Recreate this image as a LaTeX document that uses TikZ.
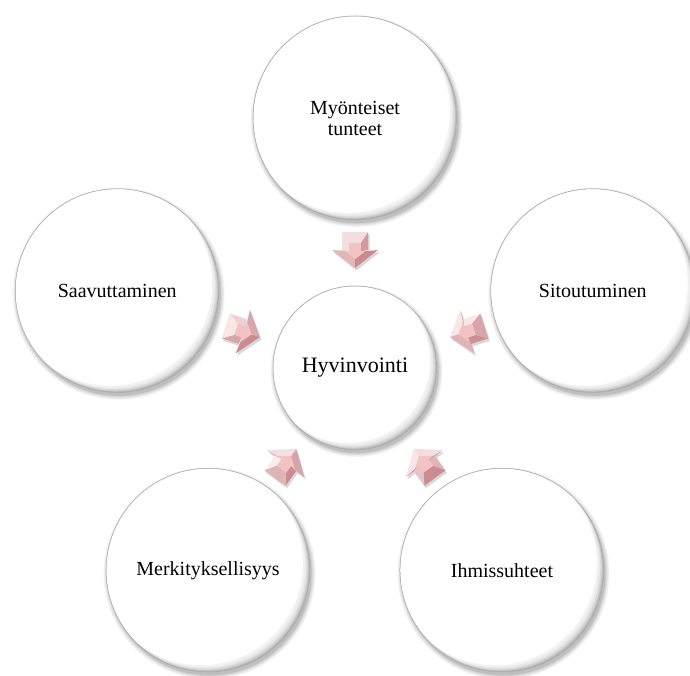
\documentclass[tikz,border=0pt]{standalone}
\usepackage{fontspec}
\setmainfont{Liberation Serif}
\usetikzlibrary{calc}

\definecolor{arrowlight}{RGB}{255,242,242}
\definecolor{arrowdark}{RGB}{200,135,140}
\definecolor{arrowmid}{RGB}{242,194,196}
\definecolor{rimgray}{RGB}{170,170,170}

% soft shadow + inner bevel behind a bubble: #1 centre coordinate, #2 radius
\newcommand\bubbleback[2]{%
  \foreach \k/\v in {5/4,4/7,3/10,2/14,1/19,0/25}{
    \fill[black!\v] ($(#1)+(1.5,-3)$) circle[radius=#2+\k*0.8];
  }
  \fill[white] (#1) circle[radius=#2];
  \begin{scope}
    \clip (#1) circle[radius=#2];
    \foreach \d/\v in {7/5,5/9,3.5/15,2.2/22,1.2/30}{
      \fill[black!\v, even odd rule] (#1) circle[radius=#2] ($(#1)+(-\d,\d)$) circle[radius=#2];
    }
  \end{scope}}

\newcommand\bevelarrow[2]{%
  \begin{scope}[shift={(#1)}]
    \begin{scope}[shift={(1.5,-2.5)}, rotate=#2]
      \fill[black, opacity=0.15] (-18,-13) -- (0,-13) -- (0,-23) -- (18,0) -- (0,23) -- (0,13) -- (-18,13) -- cycle;
    \end{scope}
    \begin{scope}[rotate=#2]
      \foreach \ax/\ay/\bx/\by/\cx/\cy/\dx/\dy/\nrm in {
        -18/-13/0/-13/1.1/-5.85/-7/-5.85/-90,
        0/-13/0/-23/1.1/-10.35/1.1/-5.85/180,
        0/-23/18/0/9.2/0/1.1/-10.35/-38,
        18/0/0/23/1.1/10.35/9.2/0/38,
        0/23/0/13/1.1/5.85/1.1/10.35/180,
        0/13/-18/13/-7/5.85/1.1/5.85/90,
        -18/13/-18/-13/-7/-5.85/-7/5.85/180}{
        \pgfmathtruncatemacro\lvl{50+45*cos(\nrm+(#2)-135)}
        \fill[arrowlight!\lvl!arrowdark] (\ax,\ay) -- (\bx,\by) -- (\cx,\cy) -- (\dx,\dy) -- cycle;
      }
      \fill[arrowmid] (-7,-5.85) -- (1.1,-5.85) -- (1.1,-10.35) -- (9.2,0) -- (1.1,10.35) -- (1.1,5.85) -- (-7,5.85) -- cycle;
    \end{scope}
  \end{scope}}

\tikzset{
  bubble/.style={circle, inner sep=0pt, align=center, draw=rimgray, line width=0.5pt},
  outerbubble/.style={bubble, minimum size=204pt, font=\fontsize{20}{21}\selectfont},
  hubbubble/.style={bubble, minimum size=164pt, font=\fontsize{22}{24}\selectfont}
}

\begin{document}
\begin{tikzpicture}[x=1pt,y=1pt]
  \useasboundingbox (0,0) rectangle (690,675);
  \fill[white] (0,0) rectangle (690,675);
  \clip (0,0) rectangle (690,675);

  \coordinate (c0) at (355,307);
  \coordinate (p1) at ($(c0)+(90:250)$);
  \coordinate (p2) at ($(c0)+(18:250)$);
  \coordinate (p3) at ($(c0)+(-54:250)$);
  \coordinate (p4) at ($(c0)+(234:250)$);
  \coordinate (p5) at ($(c0)+(162:250)$);

  \bubbleback{p1}{102}
  \bubbleback{p2}{102}
  \bubbleback{p3}{102}
  \bubbleback{p4}{102}
  \bubbleback{p5}{102}
  \bubbleback{c0}{82}

  \node[outerbubble] (mt)  at (p1) {Myönteiset\\tunteet};
  \node[outerbubble] (sit) at (p2) {Sitoutuminen};
  \node[outerbubble] (ih)  at (p3) {Ihmissuhteet};
  \node[outerbubble] (me)  at (p4) {Merkityksellisyys};
  \node[outerbubble] (sa)  at (p5) {Saavuttaminen};
  \node[hubbubble]   (hv)  at (c0) {Hyvinvointi};

  \coordinate (a1) at ($(c0)+(90:118)$);
  \coordinate (a2) at ($(c0)+(18:118)$);
  \coordinate (a3) at ($(c0)+(-54:118)$);
  \coordinate (a4) at ($(c0)+(234:118)$);
  \coordinate (a5) at ($(c0)+(162:118)$);

  \bevelarrow{a1}{-90}
  \bevelarrow{a2}{198}
  \bevelarrow{a3}{126}
  \bevelarrow{a4}{54}
  \bevelarrow{a5}{-18}
\end{tikzpicture}
\end{document}
